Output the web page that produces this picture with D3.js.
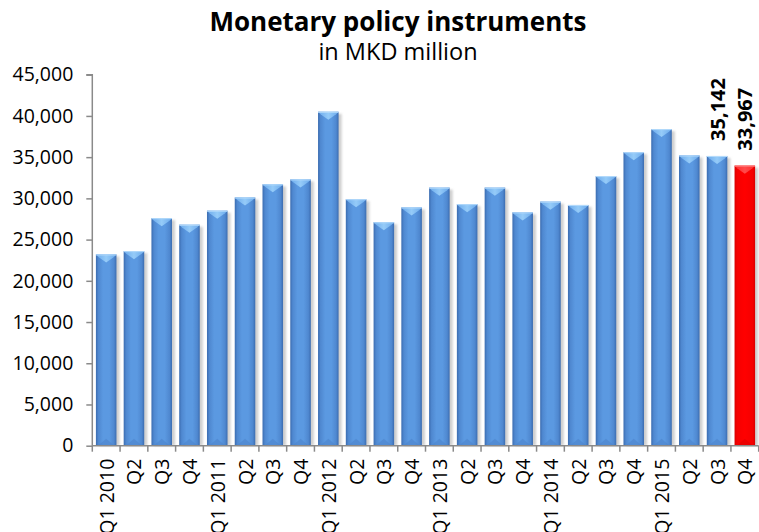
<!DOCTYPE html>
<html>
<head>
<meta charset="utf-8">
<script src="https://cdn.jsdelivr.net/npm/d3@7/dist/d3.min.js"></script>
<style>
  html, body { margin: 0; padding: 0; background: #ffffff; }
  svg { display: block; }
  text { font-family: "Open Sans", "Noto Sans", sans-serif; fill: #000; }
</style>
</head>
<body>
<svg id="chart" width="759" height="532"></svg>
<script>
// Quarterly stock of monetary policy instruments, MKD million
const quarters = ["Q1 2010", "Q2", "Q3", "Q4",
                  "Q1 2011", "Q2", "Q3", "Q4",
                  "Q1 2012", "Q2", "Q3", "Q4",
                  "Q1 2013", "Q2", "Q3", "Q4",
                  "Q1 2014", "Q2", "Q3", "Q4",
                  "Q1 2015", "Q2", "Q3", "Q4"];
const values = [23200, 23600, 27600, 26800,
                28500, 30100, 31700, 32300,
                40500, 29900, 27100, 28900,
                31300, 29300, 31300, 28300,
                29600, 29200, 32700, 35600,
                38400, 35200, 35142, 33967];
const labelledIdx = [22, 23];       // bars carrying a value label
const highlightIdx = 23;            // latest quarter, drawn in red
const yTicks = [0, 5000, 10000, 15000, 20000, 25000, 30000, 35000, 40000, 45000];

const svg = d3.select("#chart");
const plotLeft = 92.3, plotRight = 758.7, plotTop = 74.7, plotBottom = 445.7;

const x = d3.scaleBand()
  .domain(d3.range(quarters.length))
  .range([plotLeft, plotRight])
  .paddingInner(0.26)
  .paddingOuter(0.13);
const y = d3.scaleLinear().domain([0, 45000]).range([plotBottom, plotTop]);
const fmt = d3.format(",");

// gradients and shadow
const defs = svg.append("defs");
function hGrad(id, stops) {
  const g = defs.append("linearGradient").attr("id", id)
    .attr("x1", "0%").attr("x2", "100%").attr("y1", "0%").attr("y2", "0%");
  stops.forEach(([o, c]) => g.append("stop").attr("offset", o).attr("stop-color", c));
}
hGrad("blueBar", [["0%", "#3b6cb0"], ["12%", "#4f88d0"], ["35%", "#5b99e1"], ["65%", "#5b99e1"], ["88%", "#4f88d0"], ["100%", "#3b6cb0"]]);
hGrad("redBar", [["0%", "#d80000"], ["12%", "#f50000"], ["50%", "#ff0000"], ["88%", "#f50000"], ["100%", "#d80000"]]);
hGrad("blueCap", [["0%", "#6aa9ec"], ["50%", "#95cbf8"], ["100%", "#6aa9ec"]]);
hGrad("redCap", [["0%", "#ff2a2a"], ["50%", "#ff4a4a"], ["100%", "#ff2a2a"]]);
const blur = defs.append("filter").attr("id", "shadowBlur")
  .attr("x", "-50%").attr("y", "-10%").attr("width", "200%").attr("height", "120%");
blur.append("feGaussianBlur").attr("stdDeviation", 1.2);

const bw = x.bandwidth();
const bars = svg.append("g").selectAll("g").data(values).join("g");

// soft grey shadow to the right of each bar
bars.append("rect")
  .attr("x", (d, i) => x(i) + 3)
  .attr("y", d => y(d) + 2)
  .attr("width", bw)
  .attr("height", d => plotBottom - y(d) - 2)
  .attr("fill", "#cfcfcf")
  .attr("filter", "url(#shadowBlur)");

// bar body
bars.append("rect")
  .attr("x", (d, i) => x(i))
  .attr("y", d => y(d))
  .attr("width", bw)
  .attr("height", d => plotBottom - y(d))
  .attr("fill", (d, i) => i === highlightIdx ? "url(#redBar)" : "url(#blueBar)");

// bevelled top: light band with a downward triangle
const capH = 7;
bars.append("path")
  .attr("d", (d, i) => {
    const x0 = x(i), x1 = x(i) + bw, yt = y(d);
    return `M${x0},${yt}L${x1},${yt}L${x1 - 2.5},${yt + 2.5}L${(x0 + x1) / 2},${yt + capH + 1}L${x0 + 2.5},${yt + 2.5}Z`;
  })
  .attr("fill", (d, i) => i === highlightIdx ? "url(#redCap)" : "url(#blueCap)");
bars.append("line")
  .attr("x1", (d, i) => x(i)).attr("x2", (d, i) => x(i) + bw)
  .attr("y1", d => y(d) + 0.5).attr("y2", d => y(d) + 0.5)
  .attr("stroke", (d, i) => i === highlightIdx ? "#ff8080" : "#b5dbfb")
  .attr("stroke-width", 1);

// faint bevel at the base
bars.append("path")
  .attr("d", (d, i) => {
    const x0 = x(i), x1 = x(i) + bw;
    return `M${x0 + 2},${plotBottom}L${(x0 + x1) / 2},${plotBottom - capH}L${x1 - 2},${plotBottom}Z`;
  })
  .attr("fill", (d, i) => i === highlightIdx ? "#e00000" : "#4c84cb")
  .attr("opacity", 0.6);

// axes
const axisColor = "#8a8a8a";
const yAxis = svg.append("g").attr("transform", `translate(${plotLeft},0)`)
  .call(d3.axisLeft(y).tickValues(yTicks).tickFormat(fmt).tickSize(6).tickPadding(13));
yAxis.select(".domain").attr("stroke", axisColor).attr("stroke-width", 1.5)
  .attr("d", `M-6,${plotTop}H0V${plotBottom}`);
yAxis.selectAll(".tick line").attr("stroke", axisColor).attr("stroke-width", 1.5);
yAxis.selectAll(".tick text").attr("font-size", 19.5)
  .style("font-family", "'Open Sans', sans-serif").attr("fill", "#000");

const step = x.step();
const xAxis = svg.append("g");
xAxis.append("line")
  .attr("x1", plotLeft).attr("x2", plotRight).attr("y1", plotBottom).attr("y2", plotBottom)
  .attr("stroke", axisColor).attr("stroke-width", 1.5);
xAxis.selectAll("line.tick").data(d3.range(quarters.length + 1)).join("line")
  .attr("class", "tick")
  .attr("x1", k => plotLeft + k * step).attr("x2", k => plotLeft + k * step)
  .attr("y1", plotBottom).attr("y2", plotBottom + 6)
  .attr("stroke", axisColor).attr("stroke-width", 1.5);
xAxis.selectAll("text").data(quarters).join("text")
  .attr("transform", (d, i) => `translate(${x(i) + bw / 2},${plotBottom + 13}) rotate(-90)`)
  .attr("text-anchor", "end")
  .attr("dominant-baseline", "central")
  .attr("font-size", 19.5)
  .text(d => d);

// value labels on the latest quarters
svg.append("g").selectAll("text").data(labelledIdx).join("text")
  .attr("transform", i => `translate(${x(i) + bw / 2},${y(values[i]) - 15}) rotate(-90)`)
  .attr("text-anchor", "start")
  .attr("dominant-baseline", "central")
  .attr("font-size", 20)
  .attr("font-weight", "bold")
  .text(i => fmt(values[i]));

// title block
svg.append("text")
  .attr("x", 398).attr("y", 31)
  .attr("text-anchor", "middle")
  .attr("font-size", 26)
  .attr("font-weight", "bold")
  .text("Monetary policy instruments");
svg.append("text")
  .attr("x", 398).attr("y", 60)
  .attr("text-anchor", "middle")
  .attr("font-size", 23.5)
  .text("in MKD million");
</script>
</body>
</html>
